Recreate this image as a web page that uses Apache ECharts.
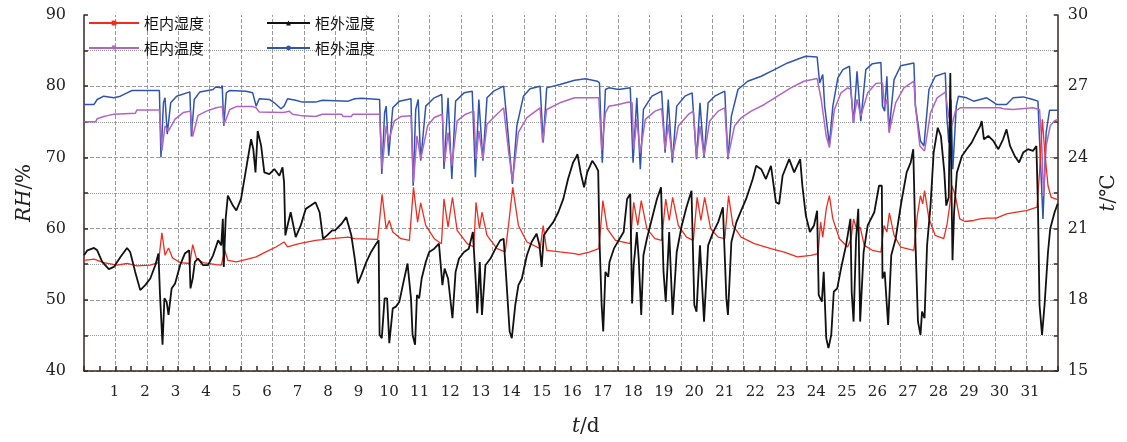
<!DOCTYPE html>
<html>
<head>
<meta charset="utf-8">
<script src="https://cdn.jsdelivr.net/npm/echarts/dist/echarts.min.js"></script>
<style>
  html, body { margin: 0; padding: 0; background: #fff; }
  #chart { width: 1127px; height: 442px; }
</style>
</head>
<body>
<div id="chart"></div>
<script>
// day labels under the x axis
const dayLabels = [1,2,3,4,5,6,7,8,9,10,11,12,13,14,15,16,17,18,19,20,21,22,23,24,25,26,27,28,29,30,31];
// days that carry a vertical gridline
const gridDays = [1,2,3,4,5,6,7,8,9,10,11,12,13,14,15,16,17,18,19,20,21,22,23,24,25,26,27,28,29,30];

// [t (d), RH (%)] 柜内湿度
const inHumidity = [[0,55.55],[0.32,55.7],[0.63,55.23],[1.05,54.86],[1.37,55.1],[1.69,54.76],[2.11,54.86],[2.37,55.23],[2.48,59.42],[2.58,56.25],[2.69,57.28],[2.82,55.88],[3.06,55.23],[3.37,55.1],[3.46,57.74],[3.58,55.79],[3.79,55.23],[4.21,54.95],[4.37,54.86],[4.48,56.95],[4.58,55.55],[4.85,55.32],[5.27,55.79],[5.48,56.02],[5.79,56.72],[6.11,57.42],[6.37,58.12],[6.48,57.42],[6.85,57.88],[7.37,58.35],[7.9,58.58],[8.41,58.81],[8.62,58.58],[9.35,58.49],[9.41,58.58],[9.49,64.8],[9.62,59.98],[9.72,61.14],[9.83,59.51],[10.09,58.58],[10.36,58.35],[10.49,65.8],[10.62,60.91],[10.72,63.61],[10.88,60.44],[11.15,58.58],[11.38,57.88],[11.46,64.17],[11.59,60.21],[11.73,64.4],[11.88,59.75],[12.2,57.88],[12.41,57.42],[12.48,63.7],[12.59,59.98],[12.67,62.3],[12.83,59.05],[13.15,57.18],[13.41,56.72],[13.52,60.68],[13.65,65.8],[13.83,60.44],[14.1,58.12],[14.52,57.18],[14.62,60.44],[14.73,56.95],[15.15,56.72],[15.62,56.49],[15.76,56.34],[16.08,56.71],[16.39,57.18],[16.52,63.93],[16.66,59.97],[16.92,58.34],[17.39,57.88],[17.5,63.7],[17.63,60.44],[17.74,63.93],[17.92,59.97],[18.18,58.58],[18.39,58.34],[18.52,64.16],[18.63,61.14],[18.74,64.4],[18.92,60.44],[19.18,58.81],[19.4,58.34],[19.52,64.4],[19.64,61.14],[19.76,64.4],[19.95,59.97],[20.19,58.81],[20.4,58.58],[20.52,64.63],[20.66,60.44],[20.92,58.81],[21.34,57.88],[21.87,57.18],[22.29,56.71],[22.71,56.02],[23.14,56.25],[23.37,56.48],[23.45,60.9],[23.52,58.81],[23.63,62.77],[23.73,64.63],[23.84,61.37],[24.05,58.58],[24.31,57.41],[24.42,58.58],[24.5,61.37],[24.61,59.74],[24.71,60.2],[24.84,57.65],[25.1,56.95],[25.37,56.71],[25.47,60.44],[25.56,59.51],[25.64,62.21],[25.79,59.04],[26.0,57.41],[26.42,56.95],[26.53,61.84],[26.63,64.63],[26.7,63.47],[26.76,65.33],[26.9,61.37],[27.1,59.04],[27.37,58.58],[27.47,60.44],[27.56,63.23],[27.63,66.02],[27.74,64.63],[27.88,61.37],[28.05,61.0],[28.32,61.14],[28.53,61.37],[28.74,61.46],[29.05,61.46],[29.37,62.07],[29.69,62.3],[30.0,62.53],[30.34,63.0],[30.42,67.89],[30.51,75.34],[30.58,71.15],[30.69,66.02],[30.79,64.4],[31,64.07]];

// [t (d), RH (%)] 柜外湿度
const outHumidity = [[0,56.25],[0.11,56.95],[0.32,57.28],[0.42,56.95],[0.58,55.32],[0.79,54.3],[0.95,54.62],[1.16,56.02],[1.37,57.28],[1.47,56.72],[1.63,53.92],[1.79,51.36],[1.95,52.06],[2.11,52.99],[2.27,54.86],[2.37,56.49],[2.42,50.67],[2.5,43.68],[2.56,50.2],[2.63,49.74],[2.69,47.87],[2.79,51.6],[2.9,52.3],[3.06,54.86],[3.21,56.49],[3.35,56.95],[3.39,51.6],[3.46,52.99],[3.53,55.32],[3.63,55.79],[3.79,54.86],[3.95,54.86],[4.11,56.25],[4.27,58.35],[4.37,57.65],[4.42,61.37],[4.45,54.62],[4.51,61.37],[4.58,64.63],[4.74,63.23],[4.85,62.54],[5.0,64.17],[5.16,68.36],[5.32,72.55],[5.39,71.15],[5.46,67.89],[5.53,73.71],[5.64,71.62],[5.74,67.89],[5.9,67.66],[6.06,68.36],[6.22,67.43],[6.32,68.59],[6.37,66.5],[6.41,59.05],[6.48,60.44],[6.58,62.3],[6.74,58.81],[6.9,60.44],[7.06,62.77],[7.22,63.23],[7.37,63.7],[7.5,62.3],[7.61,58.58],[7.74,59.05],[7.9,59.75],[7.99,59.75],[8.2,60.68],[8.35,61.61],[8.41,61.84],[8.51,59.05],[8.62,55.79],[8.72,52.3],[8.83,53.46],[8.99,55.32],[9.14,56.72],[9.3,57.88],[9.38,58.35],[9.41,45.08],[9.48,44.61],[9.57,50.2],[9.65,50.2],[9.72,43.91],[9.83,48.8],[9.93,49.04],[10.04,49.74],[10.15,52.06],[10.3,55.09],[10.41,50.2],[10.46,45.08],[10.54,43.68],[10.6,50.67],[10.67,50.2],[10.75,52.99],[10.88,55.32],[10.99,56.72],[11.15,57.18],[11.3,57.88],[11.41,52.06],[11.48,54.39],[11.59,52.99],[11.73,47.41],[11.83,53.92],[11.94,55.79],[12.1,56.72],[12.25,57.18],[12.38,59.51],[12.46,53.46],[12.52,48.11],[12.6,55.32],[12.67,47.87],[12.78,54.86],[12.94,55.79],[13.1,57.18],[13.25,58.35],[13.36,58.58],[13.43,53.92],[13.55,45.55],[13.62,44.61],[13.73,49.27],[13.83,52.06],[13.94,52.99],[14.1,56.25],[14.25,58.12],[14.41,59.28],[14.5,57.65],[14.57,54.62],[14.64,59.05],[14.78,59.98],[14.94,60.91],[15.1,62.3],[15.26,64.17],[15.41,66.96],[15.57,69.29],[15.66,69.98],[15.71,70.45],[15.81,67.89],[15.92,65.79],[16.02,67.89],[16.18,69.52],[16.29,68.82],[16.37,68.12],[16.41,58.58],[16.48,49.27],[16.53,45.54],[16.6,53.92],[16.69,53.22],[16.73,55.32],[16.87,57.18],[17.02,58.34],[17.18,59.51],[17.29,64.16],[17.39,64.86],[17.45,49.5],[17.5,54.85],[17.6,59.51],[17.66,55.78],[17.74,47.87],[17.81,56.25],[17.92,58.58],[18.08,61.37],[18.24,64.16],[18.37,65.79],[18.45,53.92],[18.52,49.73],[18.63,59.51],[18.74,47.87],[18.87,56.71],[19.03,60.44],[19.18,62.99],[19.34,65.33],[19.43,49.27],[19.5,48.34],[19.61,57.65],[19.74,46.94],[19.87,57.65],[20.03,59.51],[20.19,60.91],[20.34,62.99],[20.45,50.2],[20.5,47.87],[20.61,58.11],[20.77,60.91],[20.92,62.53],[21.08,64.16],[21.29,66.96],[21.4,68.82],[21.56,68.35],[21.71,66.96],[21.87,68.82],[22.03,63.7],[22.13,63.47],[22.24,67.42],[22.45,69.75],[22.61,67.89],[22.8,69.75],[22.87,66.02],[22.98,61.84],[23.11,59.51],[23.24,60.44],[23.34,62.5],[23.39,50.66],[23.49,49.73],[23.55,53.92],[23.63,44.61],[23.7,43.21],[23.79,45.08],[23.87,51.13],[23.98,51.6],[24.1,54.39],[24.26,57.65],[24.4,61.37],[24.44,51.13],[24.5,46.94],[24.58,58.58],[24.65,62.77],[24.71,46.94],[24.82,56.71],[24.95,60.44],[25.16,62.3],[25.31,66.02],[25.4,66.02],[25.42,52.99],[25.49,53.92],[25.6,46.48],[25.7,56.25],[25.84,58.58],[26.02,63.7],[26.19,67.89],[26.32,69.29],[26.4,71.15],[26.47,58.11],[26.55,46.94],[26.63,45.08],[26.68,48.34],[26.76,47.41],[26.84,57.65],[26.95,63.23],[27.05,70.68],[27.18,74.17],[27.28,73.01],[27.39,67.89],[27.45,63.23],[27.53,64.4],[27.58,81.85],[27.61,67.89],[27.65,55.55],[27.7,62.3],[27.79,67.89],[27.95,70.21],[28.1,71.15],[28.26,72.08],[28.42,73.47],[28.53,74.4],[28.58,75.1],[28.65,72.54],[28.79,73.01],[28.95,72.31],[29.11,71.15],[29.26,72.54],[29.37,73.94],[29.48,71.61],[29.63,70.21],[29.77,69.29],[29.9,70.68],[30.05,71.15],[30.21,70.91],[30.32,71.61],[30.37,63.23],[30.42,49.27],[30.5,45.08],[30.58,49.27],[30.69,56.71],[30.76,59.97],[30.9,62.3],[31,63.5]];

// [t (d), T (℃)] 柜内温度
const inTemp = [[0,25.5],[0.37,25.5],[0.42,25.63],[0.63,25.72],[0.79,25.77],[0.95,25.82],[1.63,25.86],[1.69,26.0],[2.4,26.0],[2.48,24.28],[2.58,25.33],[2.69,25.12],[2.9,25.61],[3.16,25.89],[3.39,25.95],[3.46,24.88],[3.63,25.77],[3.9,25.95],[4.21,26.09],[4.4,26.14],[4.46,25.4],[4.64,26.02],[4.85,26.14],[5.37,26.14],[5.48,26.09],[5.58,25.91],[6.32,25.89],[6.43,25.91],[6.53,25.95],[6.64,25.82],[6.95,25.75],[7.37,25.72],[7.59,25.82],[8.2,25.82],[8.25,25.72],[8.51,25.72],[8.56,25.82],[9.41,25.82],[9.49,23.51],[9.62,25.33],[9.7,24.7],[9.88,25.54],[10.09,25.72],[10.41,25.75],[10.49,22.95],[10.6,24.91],[10.72,23.93],[10.94,25.33],[11.15,25.68],[11.41,25.82],[11.48,23.79],[11.59,25.05],[11.71,23.65],[11.88,25.54],[12.15,25.82],[12.41,25.95],[12.48,23.93],[12.57,25.12],[12.7,23.93],[12.83,25.4],[13.04,25.68],[13.36,26.09],[13.52,24.21],[13.64,23.02],[13.83,25.05],[14.1,25.68],[14.52,26.09],[14.6,24.63],[14.73,26.02],[15.15,26.3],[15.62,26.51],[15.87,26.51],[15.92,26.58],[16.39,26.51],[16.48,24.28],[16.6,25.88],[16.71,26.16],[17.02,26.23],[17.34,26.33],[17.45,26.3],[17.5,24.34],[17.6,25.6],[17.71,24.2],[17.87,25.6],[18.18,25.95],[18.39,26.05],[18.5,24.34],[18.6,25.39],[18.73,23.99],[18.92,25.32],[19.24,25.81],[19.4,25.95],[19.5,23.99],[19.61,25.32],[19.74,24.07],[19.92,25.53],[20.19,25.95],[20.4,26.09],[20.5,23.99],[20.71,25.32],[20.92,25.67],[21.24,25.95],[21.66,26.23],[22.08,26.58],[22.5,26.93],[22.92,27.21],[23.34,27.32],[23.47,26.44],[23.63,24.9],[23.73,24.41],[23.89,26.02],[24.1,26.72],[24.31,26.93],[24.42,26.86],[24.49,25.46],[24.61,26.44],[24.73,25.74],[24.95,26.72],[25.21,27.11],[25.42,27.14],[25.49,26.16],[25.56,26.44],[25.63,25.04],[25.84,26.3],[26.1,26.93],[26.42,27.21],[26.47,26.16],[26.61,24.48],[26.76,24.27],[26.95,25.88],[27.16,26.51],[27.42,26.75],[27.53,25.74],[27.63,25.32],[27.74,25.95],[27.9,26.09],[29.16,26.09],[29.26,26.05],[29.58,26.02],[29.63,26.09],[30.21,26.09],[30.42,26.02],[30.48,24.9],[30.55,22.39],[30.63,24.48],[30.76,25.32],[30.9,25.55],[31,25.6]];

// [t (d), T (℃)] 柜外温度
const outTemp = [[0,26.23],[0.32,26.23],[0.42,26.44],[0.63,26.58],[0.95,26.51],[1.16,26.58],[1.37,26.72],[1.53,26.82],[2.4,26.82],[2.45,24.0],[2.53,26.3],[2.58,26.51],[2.65,24.98],[2.76,26.3],[2.95,26.58],[3.37,26.76],[3.42,24.88],[3.51,26.44],[3.69,26.76],[4.11,26.86],[4.19,26.97],[4.37,26.93],[4.4,27.03],[4.45,25.33],[4.53,26.72],[4.64,26.82],[5.16,26.79],[5.37,26.72],[5.48,26.16],[5.58,26.47],[5.9,26.44],[6.06,26.3],[6.27,26.05],[6.37,26.16],[6.48,26.47],[6.74,26.41],[6.95,26.33],[7.37,26.33],[7.59,26.41],[8.41,26.37],[8.62,26.47],[8.83,26.49],[9.41,26.44],[9.48,23.3],[9.57,25.88],[9.62,26.16],[9.7,24.07],[9.83,26.09],[10.04,26.37],[10.41,26.47],[10.48,22.81],[10.56,26.02],[10.64,26.44],[10.72,23.86],[10.88,26.16],[11.15,26.51],[11.39,26.65],[11.46,23.51],[11.59,26.51],[11.71,23.09],[11.83,26.37],[12.1,26.72],[12.36,26.79],[12.46,23.16],[12.57,26.44],[12.7,23.86],[12.83,26.51],[13.04,26.79],[13.36,27.0],[13.46,25.6],[13.64,22.88],[13.78,25.33],[13.99,26.58],[14.2,26.89],[14.52,27.0],[14.62,24.63],[14.73,26.93],[15.15,27.07],[15.62,27.25],[15.97,27.31],[16.34,27.21],[16.41,27.14],[16.5,23.78],[16.6,26.86],[16.71,26.93],[17.02,26.86],[17.39,26.93],[17.48,23.78],[17.6,26.51],[17.71,23.5],[17.81,26.02],[18.08,26.58],[18.39,26.79],[18.5,24.2],[18.6,26.44],[18.73,23.78],[18.87,26.16],[19.13,26.58],[19.36,26.72],[19.5,23.92],[19.61,26.3],[19.74,23.99],[19.87,26.3],[20.08,26.58],[20.4,26.79],[20.5,23.92],[20.61,25.74],[20.82,26.86],[21.13,27.21],[21.56,27.42],[21.98,27.7],[22.4,27.98],[22.82,28.19],[22.98,28.26],[23.34,28.23],[23.42,27.14],[23.52,27.49],[23.58,26.16],[23.73,24.55],[23.84,26.16],[24.0,27.35],[24.16,27.7],[24.37,27.84],[24.42,26.72],[24.5,25.46],[24.61,27.63],[24.73,25.53],[24.89,27.7],[25.1,27.95],[25.37,28.0],[25.42,26.16],[25.49,25.95],[25.56,27.42],[25.63,25.11],[25.79,27.28],[26.0,27.86],[26.42,27.98],[26.47,26.16],[26.63,24.69],[26.74,24.48],[26.9,26.86],[27.1,27.42],[27.42,27.56],[27.47,25.74],[27.53,24.62],[27.6,26.44],[27.66,23.5],[27.77,26.16],[27.84,26.58],[28.1,26.51],[28.32,26.37],[28.53,26.44],[28.74,26.51],[28.9,26.37],[29.05,26.23],[29.37,26.23],[29.58,26.51],[29.9,26.55],[30.21,26.44],[30.37,26.37],[30.42,24.76],[30.53,21.41],[30.63,25.04],[30.74,25.99],[31,25.99]];

const axisColor = '#3a2626';
const gridColor = '#9a9a9a';
const numFont = 'DejaVu Serif';
const cjkFont = 'Noto Sans CJK SC';

const chart = echarts.init(document.getElementById('chart'));

const legendText = { fontSize: 15, fontFamily: cjkFont, color: '#111', lineHeight: 16 };

chart.setOption({
    animation: false,
    grid: { left: 84, right: 62, top: 15, bottom: 69 },
    legend: [
        {
            data: ['柜内湿度', '柜内温度'],
            orient: 'vertical', left: 88, top: 15, padding: 0,
            itemGap: 9, itemWidth: 50, itemHeight: 6,
            textStyle: legendText
        },
        {
            data: ['柜外湿度', '柜外温度'],
            orient: 'vertical', left: 266, top: 15, padding: 0,
            itemGap: 9, itemWidth: 43, itemHeight: 6,
            textStyle: legendText
        }
    ],
    xAxis: [
        {
            // labels only; spacing
            type: 'value', min: 0, max: 31.91, interval: 1, position: 'bottom',
            axisLine: { show: false, onZero: false }, axisTick: { show: false }, splitLine: { show: false },
            axisLabel: {
                margin: 14, fontSize: 15, fontFamily: numFont, color: '#222', showMaxLabel: false,
                formatter: v => dayLabels.indexOf(v) >= 0 ? String(v) : ''
            },
            name: '{i|t}/d', nameLocation: 'middle', nameGap: 46,
            nameTextStyle: {
                fontSize: 20, fontFamily: numFont, color: '#222', padding: [0, 0, 0, 30],
                rich: { i: { fontSize: 20, fontFamily: numFont, fontStyle: 'italic', color: '#222' } }
            }
        },
        {
            // day scale of the data: axis line and a tick every half day
            type: 'value', position: 'bottom', min: 0, max: 31, interval: 0.5,
            axisLine: { show: true, onZero: false, lineStyle: { color: axisColor, width: 1.5 } },
            axisTick: { show: true, inside: true, length: 5, lineStyle: { color: axisColor, width: 1.5 } },
            axisLabel: { show: false },
            splitLine: { show: false }
        }
    ],
    yAxis: [
        {
            type: 'value', min: 40, max: 90, interval: 10,
            axisLine: { show: true, onZero: false, lineStyle: { color: axisColor, width: 1.5 } },
            axisTick: { show: true, inside: true, length: 4, lineStyle: { color: axisColor, width: 1.5 } },
            minorTick: { show: true, splitNumber: 2, length: 4, lineStyle: { color: axisColor, width: 1.5 } },
            axisLabel: { margin: 18, fontSize: 16, fontFamily: numFont, color: '#222' },
            splitLine: { show: true, showMaxLine: false, lineStyle: { type: 'dashed', width: 1, color: gridColor } },
            minorSplitLine: { show: true, lineStyle: { type: 'dotted', width: 1, color: gridColor } },
            name: '{i|RH}/%', nameLocation: 'middle', nameGap: 48,
            nameTextStyle: {
                fontSize: 20, fontFamily: numFont, color: '#222',
                rich: { i: { fontSize: 20, fontFamily: numFont, fontStyle: 'italic', color: '#222' } }
            }
        },
        {
            type: 'value', min: 15, max: 30, interval: 3, position: 'right',
            axisLine: { show: true, onZero: false, lineStyle: { color: axisColor, width: 1.5 } },
            axisTick: { show: true, inside: true, length: 4, lineStyle: { color: axisColor, width: 1.5 } },
            minorTick: { show: true, splitNumber: 2, length: 4, lineStyle: { color: axisColor, width: 1.5 } },
            axisLabel: { margin: 10, fontSize: 16, fontFamily: numFont, color: '#222' },
            splitLine: { show: false },
            name: '{i|t}/℃', nameLocation: 'middle', nameGap: 38,
            nameTextStyle: {
                fontSize: 20, fontFamily: numFont, color: '#222',
                rich: { i: { fontSize: 20, fontFamily: numFont, fontStyle: 'italic', color: '#222' } }
            }
        }
    ],
    series: [
        {
            name: '柜外温度', type: 'line', xAxisIndex: 1, yAxisIndex: 1, data: outTemp,
            showSymbol: false, symbol: 'circle',
            lineStyle: { width: 1.5, color: '#2f54b0' }, itemStyle: { color: '#2f54b0' },
            // vertical day gridlines, placed by the x scale
            markLine: {
                silent: true, symbol: 'none', label: { show: false }, z: 0,
                lineStyle: { type: 'dashed', width: 1, color: gridColor },
                data: gridDays.map(d => ({ xAxis: d }))
            }
        },
        {
            name: '柜内温度', type: 'line', xAxisIndex: 1, yAxisIndex: 1, data: inTemp,
            showSymbol: false, symbol: 'triangle', symbolRotate: 180,
            lineStyle: { width: 1.5, color: '#b065c2' }, itemStyle: { color: '#b065c2' }
        },
        {
            name: '柜内湿度', type: 'line', xAxisIndex: 1, yAxisIndex: 0, data: inHumidity,
            showSymbol: false, symbol: 'rect',
            lineStyle: { width: 1.3, color: '#ee2d20' }, itemStyle: { color: '#ee2d20' }
        },
        {
            name: '柜外湿度', type: 'line', xAxisIndex: 1, yAxisIndex: 0, data: outHumidity,
            showSymbol: false, symbol: 'triangle',
            lineStyle: { width: 1.8, color: '#111111' }, itemStyle: { color: '#111111' }
        }
    ]
});
</script>
</body>
</html>
